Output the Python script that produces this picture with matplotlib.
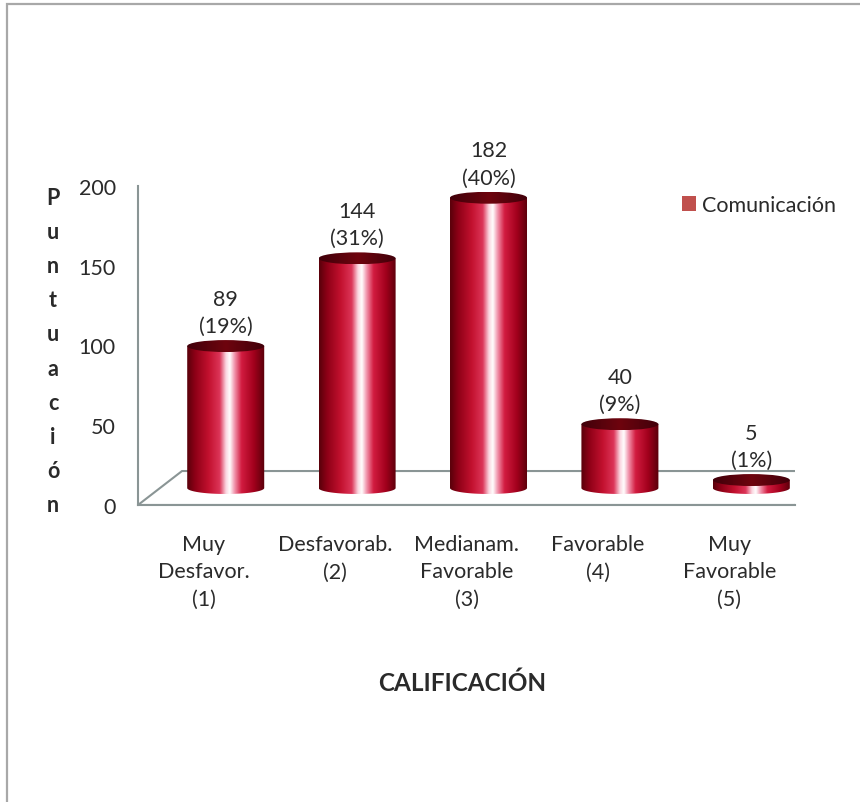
import numpy as np
import matplotlib
matplotlib.use("Agg")
import matplotlib.pyplot as plt
from matplotlib.patches import PathPatch, Ellipse, Polygon, Patch, Rectangle
from matplotlib.path import Path
from matplotlib.colors import LinearSegmentedColormap

plt.rcParams["font.family"] = ["Lato", "DejaVu Sans"]

categories = ["Muy\nDesfavor.\n(1)", "Desfavorab.\n(2)", "Medianam.\nFavorable\n(3)",
              "Favorable\n(4)", "Muy\nFavorable\n(5)"]
values = [89, 144, 182, 40, 5]
percents = [19, 31, 40, 9, 1]
yticks = [0, 50, 100, 150, 200]
series_name = "Comunicación"
axis_title = "CALIFICACIÓN"
value_title = "Puntuación"

TEXT = "#2a2a2a"
EDGE = "#8a9595"
LEGEND_RED = "#c0504d"
FS = 15.5

# fake 3-D: floor depth in data units, cylinder size
DX, DY = 0.335, 21.3
BAR_W = 0.586
CAP_H = 7.5

body_cmap = LinearSegmentedColormap.from_list("body", [
    (0.0, "#58000a"), (0.1, "#8c0016"), (0.28, "#c3112f"), (0.42, "#dc3558"),
    (0.5, "#fbd6e0"), (0.55, "#ffffff"), (0.61, "#f296ae"), (0.7, "#d21c40"),
    (0.86, "#a2001c"), (1.0, "#58000a")])
cap_cmap = LinearSegmentedColormap.from_list("cap", [
    (0.0, "#40000a"), (0.5, "#6e040e"), (1.0, "#40000a")])

fig = plt.figure(figsize=(8.6, 8.03), dpi=100)
ax = fig.add_axes([138 / 860, 1 - 506 / 803, 657 / 860, 319 / 803])

# floor: front edge and left edge are the spines, the rest is a parallelogram
n = len(values)
floor = Polygon([(0, 0), (n, 0), (n + DX, DY), (DX, DY)], closed=True,
                fc="white", ec=EDGE, lw=1.5, zorder=1)
ax.add_patch(floor)

grad = np.linspace(0, 1, 256).reshape(1, -1)
t = np.linspace(np.pi, 2 * np.pi, 80)
for i, (v, p) in enumerate(zip(values, percents)):
    xc = i + 0.5 + DX / 2
    base = DY / 2
    top = base + v
    xl, xr = xc - BAR_W / 2, xc + BAR_W / 2

    verts = [(xl, top), (xl, base)]
    verts += list(zip(xc + BAR_W / 2 * np.cos(t), base + CAP_H / 2 * np.sin(t)))
    verts += [(xr, top), (xl, top)]
    body = PathPatch(Path(verts, closed=True), fc="none", ec="none", zorder=3)
    ax.add_patch(body)
    im = ax.imshow(grad, cmap=body_cmap, extent=(xl, xr, base - CAP_H, top + CAP_H),
                   aspect="auto", interpolation="bicubic", zorder=3)
    im.set_clip_path(body)

    cap = Ellipse((xc, top), BAR_W, CAP_H, fc="none", ec="none", zorder=4)
    ax.add_patch(cap)
    im2 = ax.imshow(grad, cmap=cap_cmap, extent=(xl, xr, top - CAP_H / 2, top + CAP_H / 2),
                    aspect="auto", interpolation="bicubic", zorder=4)
    im2.set_clip_path(cap)

    ax.annotate(f"{v}\n({p}%)", xy=(xc, top + CAP_H / 2), xytext=(0, 3),
                textcoords="offset points", ha="center", va="bottom",
                fontsize=FS, color=TEXT, linespacing=1.45, annotation_clip=False)

ax.set_xlim(0, n)
ax.set_ylim(yticks[0], yticks[-1])
for side in ("top", "right"):
    ax.spines[side].set_visible(False)
for side in ("left", "bottom"):
    ax.spines[side].set_color(EDGE)
    ax.spines[side].set_linewidth(1.5)
ax.set_facecolor("none")

ax.set_yticks(yticks)
ax.tick_params(axis="y", length=0, pad=16, labelsize=FS, labelcolor=TEXT)
ax.set_xticks(np.arange(n) + 0.5, categories)
ax.tick_params(axis="x", length=0, pad=21, labelsize=FS, labelcolor=TEXT)
for lbl in ax.get_xticklabels():
    lbl.set_linespacing(1.45)
    lbl.set_multialignment("center")

# stacked vertical axis title
for ch, y in zip(value_title, np.linspace(193, 0, len(value_title))):
    ax.text(-0.647, y, ch, ha="center", va="center", fontsize=FS,
            fontweight="bold", color=TEXT)

ax.text(2.47, -111, axis_title, ha="center", va="center", fontsize=17.5,
        fontweight="bold", color=TEXT)

fig.legend(handles=[Patch(fc=LEGEND_RED, ec="none", label=series_name)],
           loc="center left", bbox_to_anchor=(682 / 860, 1 - 206 / 803),
           frameon=False, fontsize=FS, handlelength=0.65, handleheight=0.65,
           handletextpad=0.3, borderpad=0, borderaxespad=0, labelcolor=TEXT)

# chart area border (runs off the right and bottom edges)
fig.add_artist(Rectangle((7 / 860, -1), 2, 2 - 5 / 803, transform=fig.transFigure,
                         fill=False, ec="#a8a8a8", lw=1.6))

fig.savefig("out.png", dpi=100)
